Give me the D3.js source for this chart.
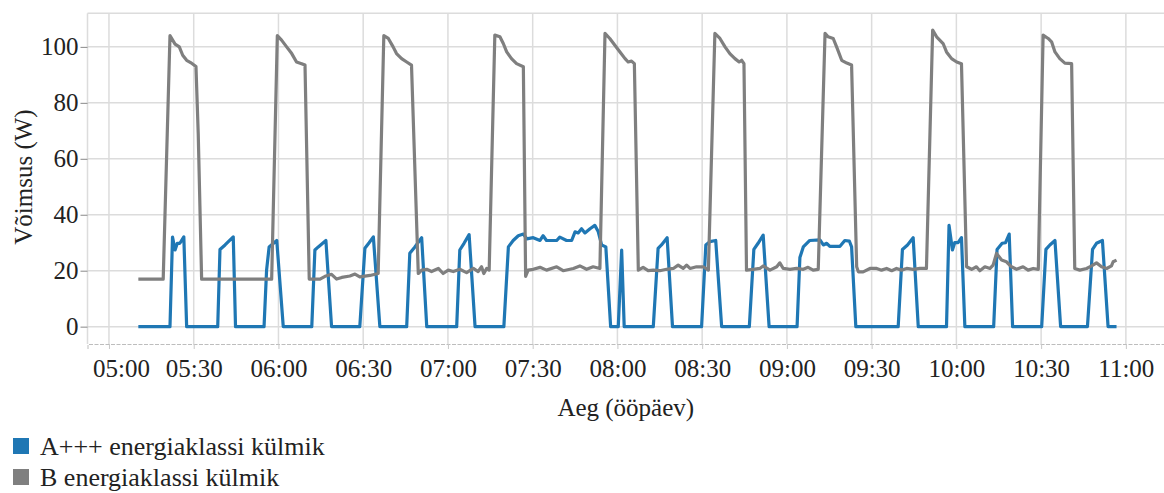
<!DOCTYPE html>
<html>
<head>
<meta charset="utf-8">
<script src="https://cdn.jsdelivr.net/npm/d3@7"></script>
<style>
  body { margin: 0; background: #fff; }
  text { font-family: "Liberation Serif", "Times New Roman", serif; fill: #222; }
</style>
</head>
<body>
<script>
const W = 1164
const H = 493
const margin = { left: 87.5, top: 13.3, right: 0, bottom: 149 }

// time of day for the axis, minutes after 05:00 for the series
const startTime = "05:00"
const xTickLabels = ["05:00","05:30","06:00","06:30","07:00","07:30","08:00",
  "08:30","09:00","09:30","10:00","10:30","11:00"]
const yTicks = [0, 20, 40, 60, 80, 100]
const seriesNames = ["A+++ energiaklassi külmik", "B energiaklassi külmik"]
const seriesColors = ["#1f77b4", "#7f7f7f"]

// A+++ fridge: [minutes after 05:00, W]
const aPower = [
  [10.4,0],[21.6,0],[22.5,32],[23.4,27.4],[24.2,29.8],[25.1,29.8],[26.5,32.1],[27.5,0],
  [38.5,0],[39.3,27.6],[41.1,29.2],[44,32.1],[44.8,0],
  [54.9,0],[55.8,20.2],[56.7,28.5],[59.4,30.8],[61.7,0],
  [71.8,0],[72.9,27.4],[74.1,28.5],[76.8,30.8],[78.8,0],
  [88.8,0],[90.6,28],[92.1,30],[93.6,32.1],[95.9,0],
  [105.4,0],[106.5,26.2],[108.3,28.5],[110.7,31.8],[112.5,0],
  [123.1,0],[124.2,27.4],[125.7,29.8],[127.5,32.9],[129.6,0],
  [139.8,0],[141.4,28.5],[143.1,30.8],[144.9,32.5],[146.7,33.1],[147.9,31.4],[150.2,31.8],
  [152.6,30.8],[153.7,32.5],[154.9,30.8],[158.5,30.8],[159.6,32],[162,30.8],[163.8,30.8],
  [165,33.9],[166.1,33.5],[167.3,35],[168.5,33.5],[170.3,35],[172,36.2],[173.2,34],
  [174.4,29.2],[175.9,28.5],[177.6,0],
  [180.3,0],[181.5,27.4],[182.4,0],
  [192.7,0],[194.4,28],[195.6,29.2],[197.6,31.8],[199.5,0],
  [209.8,0],[211.3,29.2],[212.7,30.4],[214.8,30.8],[216.9,0],
  [226.7,0],[228.3,27.6],[229.8,29.8],[231.6,32.7],[233.7,0],
  [243.6,0],[244.6,24.7],[245.8,28.5],[248.1,30.8],[251.7,31],[252.9,29.2],[254.1,29.8],
  [255.2,28.7],[258.8,28.7],[260.5,30.8],[262.1,30.6],[262.9,28.5],[264.4,0],
  [279.4,0],[280.9,27.6],[282.7,29.2],[284.7,31.8],[286.5,0],
  [296.5,0],[297.4,36.2],[298.6,27.4],[299.4,30],[300.6,30],[301.8,31.8],[303,0],
  [313.2,0],[314.4,27.6],[316.2,29.8],[317.4,30],[318.7,33.1],[319.9,0],
  [330.2,0],[331.7,27.6],[333.1,29.2],[334.9,30.8],[336.9,0],
  [346.4,0],[348.2,27.6],[349.6,29.8],[351.7,30.8],[353.7,0],[356.7,0]
]

// B fridge: [minutes after 05:00, W]
const bPower = [
  [10.4,17],[19.2,17],[21.6,104],[23.4,101],[24.9,100],[26.1,97],[27.5,95.2],[28.9,94.4],
  [30.8,93],[31.6,69],[32.8,17],
  [57.6,17],[59.6,104],[61.1,102.4],[62.9,100],[64.7,97.6],[66.4,94.6],[68.2,94],[69.4,93.5],[70.9,17],
  [74.7,17],[76.5,18],[78.8,18.7],[80.6,17],[82.4,17.6],[85.3,18.1],[87.1,18.8],[88.8,17.8],
  [92.4,18.3],[95.3,19],
  [97.3,104],[98.9,103],[100.6,100],[101.8,97.6],[103.6,95.8],[105.4,94.6],[107.1,93.5],[109.5,19],
  [110.7,20.2],[112.5,20.5],[114.2,19.7],[116.6,20.8],[118.3,19],[120.1,20.2],[121.9,19.7],
  [124.2,20.5],[126.6,19.3],[129,20.8],[130.7,19.7],[131.9,21.4],[132.7,19],[133.7,20.8],[134.6,20.2],
  [136.6,104.2],[138.4,103.6],[139.6,101.2],[140.8,98.2],[142.5,95.8],[144.3,94],[146.7,92.9],
  [147.5,18],[148.4,20.2],[150.2,20.5],[152.6,21.2],[154.9,20.2],[158.5,21.4],[160.8,20],
  [164.4,20.8],[166.7,21.7],[169.1,20.5],[171.4,21.4],[173.8,20.8],
  [175.6,104.8],[177.3,103],[179.1,100.6],[180.9,98.2],[182.7,95.8],[183.8,94.6],[185,94.9],[186,94],
  [187.4,20.2],[189.1,21.2],[190.9,20],[192.7,20.2],[195,20],[197.4,20.5],[199.8,20.8],[201.5,22],
  [203.3,20.8],[204.5,22],[205.7,20.8],[208,21.4],[210.4,21.4],[212.2,20.2],
  [214.5,104.8],[216.3,103],[218.1,100],[219.8,97.6],[221.6,95.8],[223.1,94.6],[224,95.2],[224.8,94],
  [225.7,20.2],[228.1,20.5],[230.4,20.8],[231.6,21.7],[234,20.2],[236.4,21.4],[237.5,22.8],
  [238.7,20.8],[241.1,20.5],[243.4,20.8],[245.8,20.5],[247.5,21.2],[249.3,20.2],[251.1,20.5],
  [253.5,104.8],[254.6,103.6],[256.4,103],[257.6,100],[259.4,95.2],[261.2,94.2],[262.9,93.5],
  [264.7,21.4],[265.3,19.6],[267,19.6],[269.4,20.8],[271.8,20.8],[273.5,20.2],[275.3,20.8],
  [277.1,20],[278.8,20.8],[280.6,20.2],[282.4,20.8],[284.7,20.5],[287.1,20.8],[289.4,20.8],
  [291.6,106],[293,103.6],[295.3,101.2],[296.5,98.2],[298.3,95.8],[300.1,94.6],[301.8,94],
  [303.6,21.4],[305.4,20.5],[307.1,21.4],[308.3,20],[310.1,21.4],[311.9,20.8],[313,22],
  [314.2,26.2],[316,23.8],[317.7,23.2],[319.5,21.4],[321.3,20.5],[323.6,21.4],[325.4,20.2],
  [327.2,20.8],[329,20.5],
  [330.7,104.2],[332.5,103],[333.7,101.8],[334.9,98.2],[336.6,95.8],[338.4,94.2],[340.8,94],
  [341.9,20.8],[343.7,20.2],[346.1,20.8],[347.9,21.7],[349.6,22.8],[351.4,21.4],[353.2,20.8],
  [354.9,21.7],[355.5,23.2],[356.7,23.8]
]

const parseHM = d3.timeParse("%H:%M")
const t0 = parseHM(startTime)
const atMin = m => new Date(t0.getTime() + m * 60000)

const svg = d3.select("body").append("svg")
  .attr("width", W).attr("height", H)

const plotBottom = H - margin.bottom

const x = d3.scaleTime()
  .domain([atMin(-7.6), atMin(373.5)])
  .range([margin.left, W - margin.right])

const y = d3.scaleLinear()
  .domain([-6.2, 112])
  .range([plotBottom, margin.top])

const xTickDates = xTickLabels.map(parseHM)

// grid
const grid = svg.append("g").attr("stroke", "#dcdcdc").attr("stroke-width", 1.5)
grid.selectAll(".hg").data(yTicks).enter().append("line")
  .attr("x1", margin.left).attr("x2", W)
  .attr("y1", d => y(d)).attr("y2", d => y(d))
grid.selectAll(".vg").data(xTickDates).enter().append("line")
  .attr("x1", d => x(d)).attr("x2", d => x(d))
  .attr("y1", margin.top).attr("y2", plotBottom)
grid.append("line")
  .attr("x1", margin.left).attr("x2", W)
  .attr("y1", margin.top).attr("y2", margin.top)
grid.append("line")
  .attr("x1", margin.left).attr("x2", margin.left)
  .attr("y1", margin.top).attr("y2", plotBottom)

// x axis
const xAxis = svg.append("g")
  .attr("transform", `translate(0,${plotBottom})`)
  .call(d3.axisBottom(x).tickValues(xTickDates)
    .tickFormat(d3.timeFormat("%H:%M")).tickSize(5).tickPadding(10))
xAxis.select(".domain").attr("stroke", "#bdbdbd").attr("stroke-dasharray", "4 1.5")
xAxis.selectAll(".tick line").attr("stroke", "#c8c8c8")
xAxis.selectAll(".tick text")
  .attr("font-size", 25).attr("fill", "#222")
  .attr("font-family", "Liberation Serif")
  .attr("dx", (d, i) => i == 0 ? 12 : 0)

// y axis
const yAxis = svg.append("g")
  .attr("transform", `translate(${margin.left},0)`)
  .call(d3.axisLeft(y).tickValues(yTicks).tickSize(7).tickPadding(2))
yAxis.select(".domain").remove()
yAxis.selectAll(".tick line").attr("stroke", "#888")
yAxis.selectAll(".tick text")
  .attr("font-size", 25).attr("fill", "#222")
  .attr("font-family", "Liberation Serif")

// axis titles
svg.append("text")
  .attr("transform", "translate(23,177) rotate(-90)")
  .attr("text-anchor", "middle").attr("dominant-baseline", "central")
  .attr("font-size", 25)
  .text("Võimsus (W)")

svg.append("text")
  .attr("x", (margin.left + W) / 2).attr("y", 416)
  .attr("text-anchor", "middle")
  .attr("font-size", 25)
  .text("Aeg (ööpäev)")

// lines
const line = d3.line()
  .x(d => x(atMin(d[0])))
  .y(d => y(d[1]))

const series = [aPower, bPower]
svg.selectAll(".series").data(series).enter().append("path")
  .attr("d", d => line(d))
  .attr("fill", "none")
  .attr("stroke", (d, i) => seriesColors[i])
  .attr("stroke-width", 3.2)
  .attr("stroke-linejoin", "round")

// legend
const legend = svg.selectAll(".leg").data(seriesNames).enter().append("g")
  .attr("transform", (d, i) => `translate(13,${438 + i * 31})`)
legend.append("rect")
  .attr("width", 16).attr("height", 16)
  .attr("fill", (d, i) => seriesColors[i])
legend.append("text")
  .attr("x", 27).attr("y", 16.5)
  .attr("font-size", 26)
  .text(d => d)
</script>
</body>
</html>
